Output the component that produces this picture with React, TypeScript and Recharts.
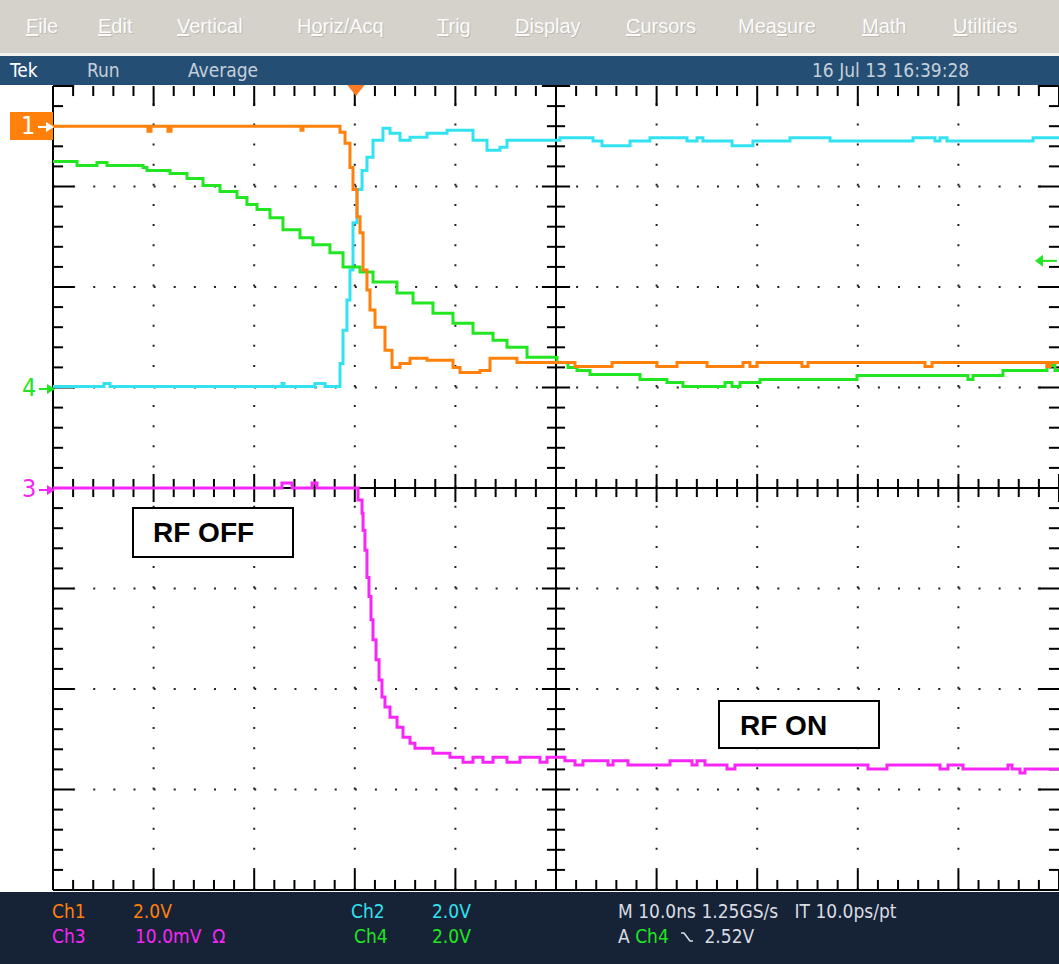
import React from "react";
import { LineChart, Line, XAxis, YAxis, ReferenceLine, ReferenceDot } from "recharts";

// screen divisions: 10 across, 8 down (centre = 5, 0)
const divX = [0, 1, 2, 3, 4, 5, 6, 7, 8, 9, 10];
const divY = [-4, -3, -2, -1, 0, 1, 2, 3, 4];

// traces, in divisions (t across, v up from screen centre)
const ch1 = [
  { t: 0, v: 3.6 }, { t: 0.944, v: 3.55 }, { t: 0.974, v: 3.6 }, { t: 1.143, v: 3.55 },
  { t: 1.173, v: 3.6 }, { t: 2.465, v: 3.56 }, { t: 2.485, v: 3.6 }, { t: 2.783, v: 3.6 },
  { t: 2.853, v: 3.54 }, { t: 2.903, v: 3.43 }, { t: 2.952, v: 3.19 }, { t: 2.982, v: 2.97 },
  { t: 3.022, v: 2.7 }, { t: 3.052, v: 2.54 }, { t: 3.082, v: 2.17 }, { t: 3.121, v: 1.97 },
  { t: 3.151, v: 1.77 }, { t: 3.201, v: 1.6 }, { t: 3.3, v: 1.37 }, { t: 3.37, v: 1.2 },
  { t: 3.449, v: 1.24 }, { t: 3.549, v: 1.29 }, { t: 3.718, v: 1.27 }, { t: 3.976, v: 1.2 },
  { t: 4.046, v: 1.15 }, { t: 4.245, v: 1.17 }, { t: 4.344, v: 1.29 }, { t: 4.573, v: 1.29 },
  { t: 4.612, v: 1.25 }, { t: 5.189, v: 1.21 }, { t: 5.557, v: 1.25 }, { t: 6.004, v: 1.21 },
  { t: 6.203, v: 1.25 }, { t: 6.501, v: 1.21 }, { t: 6.859, v: 1.25 }, { t: 6.928, v: 1.21 },
  { t: 6.998, v: 1.25 }, { t: 7.445, v: 1.21 }, { t: 7.505, v: 1.25 }, { t: 8.668, v: 1.21 },
  { t: 8.738, v: 1.25 }, { t: 9.881, v: 1.21 }, { t: 9.911, v: 1.25 }, { t: 10, v: 1.25 },
];

const ch2 = [
  { t: 0, v: 1.01 }, { t: 0.507, v: 1.04 }, { t: 0.567, v: 1.01 }, { t: 2.276, v: 1.04 },
  { t: 2.296, v: 1.01 }, { t: 2.604, v: 1.04 }, { t: 2.704, v: 1.01 }, { t: 2.783, v: 1.01 },
  { t: 2.853, v: 1.24 }, { t: 2.883, v: 1.57 }, { t: 2.922, v: 1.87 }, { t: 2.952, v: 2.17 },
  { t: 2.982, v: 2.64 }, { t: 3.022, v: 2.97 }, { t: 3.072, v: 3.16 }, { t: 3.121, v: 3.29 },
  { t: 3.181, v: 3.46 }, { t: 3.28, v: 3.58 }, { t: 3.35, v: 3.53 }, { t: 3.449, v: 3.46 },
  { t: 3.549, v: 3.49 }, { t: 3.718, v: 3.53 }, { t: 3.917, v: 3.56 }, { t: 4.076, v: 3.56 },
  { t: 4.175, v: 3.46 }, { t: 4.314, v: 3.36 }, { t: 4.443, v: 3.39 }, { t: 4.513, v: 3.46 },
  { t: 5.04, v: 3.486 }, { t: 5.368, v: 3.453 }, { t: 5.457, v: 3.406 }, { t: 5.736, v: 3.453 },
  { t: 5.934, v: 3.486 }, { t: 6.302, v: 3.453 }, { t: 6.402, v: 3.486 }, { t: 6.461, v: 3.453 },
  { t: 6.75, v: 3.406 }, { t: 6.958, v: 3.453 }, { t: 7.326, v: 3.486 }, { t: 7.724, v: 3.453 },
  { t: 8.549, v: 3.486 }, { t: 8.767, v: 3.453 }, { t: 8.817, v: 3.486 }, { t: 8.887, v: 3.453 },
  { t: 9.742, v: 3.486 }, { t: 10, v: 3.486 },
];

const ch3 = [
  { t: 0, v: 0 }, { t: 2.276, v: 0.05 }, { t: 2.376, v: 0 }, { t: 2.575, v: 0.05 },
  { t: 2.624, v: 0 }, { t: 3.022, v: 0 }, { t: 3.032, v: -0.12 }, { t: 3.072, v: -0.25 },
  { t: 3.082, v: -0.42 }, { t: 3.101, v: -0.62 }, { t: 3.121, v: -0.89 }, { t: 3.141, v: -1.08 },
  { t: 3.161, v: -1.31 }, { t: 3.181, v: -1.51 }, { t: 3.211, v: -1.71 }, { t: 3.241, v: -1.91 },
  { t: 3.27, v: -2.08 }, { t: 3.3, v: -2.18 }, { t: 3.35, v: -2.28 }, { t: 3.42, v: -2.38 },
  { t: 3.479, v: -2.48 }, { t: 3.549, v: -2.54 }, { t: 3.598, v: -2.59 }, { t: 3.777, v: -2.64 },
  { t: 3.946, v: -2.68 }, { t: 4.076, v: -2.73 }, { t: 4.175, v: -2.68 }, { t: 4.274, v: -2.73 },
  { t: 4.374, v: -2.68 }, { t: 4.513, v: -2.73 }, { t: 4.642, v: -2.68 }, { t: 4.841, v: -2.73 },
  { t: 4.911, v: -2.68 }, { t: 5.089, v: -2.713 }, { t: 5.189, v: -2.756 }, { t: 5.268, v: -2.713 },
  { t: 5.517, v: -2.756 }, { t: 5.567, v: -2.713 }, { t: 5.716, v: -2.756 }, { t: 6.133, v: -2.713 },
  { t: 6.352, v: -2.756 }, { t: 6.402, v: -2.713 }, { t: 6.481, v: -2.756 }, { t: 6.7, v: -2.796 },
  { t: 6.779, v: -2.756 }, { t: 8.101, v: -2.796 }, { t: 8.29, v: -2.756 }, { t: 8.817, v: -2.796 },
  { t: 8.897, v: -2.756 }, { t: 9.046, v: -2.796 }, { t: 9.493, v: -2.756 }, { t: 9.533, v: -2.796 },
  { t: 9.612, v: -2.836 }, { t: 9.662, v: -2.796 }, { t: 10, v: -2.796 },
];

const ch4 = [
  { t: 0, v: 3.25 }, { t: 0.239, v: 3.21 }, { t: 0.437, v: 3.24 }, { t: 0.537, v: 3.21 },
  { t: 0.895, v: 3.19 }, { t: 0.934, v: 3.16 }, { t: 1.163, v: 3.13 }, { t: 1.332, v: 3.08 },
  { t: 1.491, v: 3.01 }, { t: 1.66, v: 2.95 }, { t: 1.829, v: 2.89 }, { t: 1.928, v: 2.82 },
  { t: 2.028, v: 2.77 }, { t: 2.157, v: 2.69 }, { t: 2.286, v: 2.57 }, { t: 2.455, v: 2.49 },
  { t: 2.584, v: 2.42 }, { t: 2.753, v: 2.34 }, { t: 2.883, v: 2.2 }, { t: 3.052, v: 2.15 },
  { t: 3.181, v: 2.05 }, { t: 3.419, v: 1.94 }, { t: 3.579, v: 1.84 }, { t: 3.777, v: 1.74 },
  { t: 3.976, v: 1.64 }, { t: 4.175, v: 1.54 }, { t: 4.374, v: 1.47 }, { t: 4.513, v: 1.4 },
  { t: 4.712, v: 1.3 }, { t: 5.01, v: 1.25 }, { t: 5.119, v: 1.2 }, { t: 5.209, v: 1.17 },
  { t: 5.338, v: 1.13 }, { t: 5.835, v: 1.08 }, { t: 6.103, v: 1.05 }, { t: 6.262, v: 1.01 },
  { t: 6.68, v: 1.05 }, { t: 6.75, v: 1.01 }, { t: 6.829, v: 1.05 }, { t: 7.028, v: 1.08 },
  { t: 7.992, v: 1.12 }, { t: 9.095, v: 1.08 }, { t: 9.145, v: 1.12 }, { t: 9.443, v: 1.17 },
  { t: 9.881, v: 1.22 }, { t: 9.96, v: 1.17 }, { t: 10, v: 1.17 },
];

const triggerPos = 3.012;
const triggerLevel = 2.26;

const menuItems: [string, number, number][] = [
  ["File", 0, 26], ["Edit", 0, 98], ["Vertical", 0, 177], ["Horiz/Acq", 1, 297],
  ["Trig", 0, 437], ["Display", 0, 515], ["Cursors", 0, 626], ["Measure", 3, 738],
  ["Math", 0, 862], ["Utilities", 0, 953],
];

const ORANGE = "#ff800a";
const CYAN = "#33e2f0";
const GREEN = "#22e622";
const MAGENTA = "#f626f6";
const SCOPE_FONT = "'DejaVu Sans Condensed', 'DejaVu Sans', sans-serif";

const SUB = [0.2, 0.4, 0.6, 0.8];
const minorX = divX.slice(0, -1).flatMap((d) => SUB.map((s) => d + s));
const minorY = divY.slice(0, -1).flatMap((d) => SUB.map((s) => d + s));
const allX = [...divX, ...minorX];
const allY = [...divY, ...minorY];
const isMajor = (n: number) => Math.abs(n - Math.round(n)) < 1e-6;

const tick = (key: string, x1: number, y1: number, x2: number, y2: number) => (
  <ReferenceLine
    key={key}
    segment={[{ x: x1, y: y1 }, { x: x2, y: y2 }]}
    stroke="#000"
    strokeWidth={2}
  />
);

const Marker = ({ label, color, top, boxed }: { label: string; color: string; top: number; boxed?: boolean }) => (
  <div
    style={{
      position: "absolute",
      left: boxed ? 10 : 14,
      top: top - 14,
      width: boxed ? 43 : 39,
      height: 28,
      background: boxed ? ORANGE : "transparent",
      color: boxed ? "#fff" : color,
      font: `25px ${SCOPE_FONT}`,
      lineHeight: "28px",
      paddingLeft: boxed ? 11 : 8,
      boxSizing: "border-box",
      whiteSpace: "nowrap",
    }}
  >
    {label}
    <svg width="16" height="12" style={{ marginLeft: 3, verticalAlign: "1px" }}>
      <line x1="0" y1="6" x2="10" y2="6" stroke={boxed ? "#fff" : color} strokeWidth="2" />
      <polygon points="8,1 16,6 8,11" fill={boxed ? "#fff" : color} />
    </svg>
  </div>
);

const App: React.FC = () => {
  const dotted = { stroke: "#222", strokeWidth: 2, strokeDasharray: "2 18.12" };
  return (
    <div style={{ position: "absolute", left: 0, top: 0, width: 1059, height: 964, background: "#fff", overflow: "hidden" }}>
      <LineChart width={1059} height={964} margin={{ top: 86, right: 0, left: 53, bottom: 74 }}>
        <XAxis dataKey="t" type="number" domain={[0, 10]} ticks={divX} hide allowDuplicatedCategory={false} />
        <YAxis type="number" domain={[-4, 4]} ticks={divY} hide />

        {divX.filter((d) => d !== 0 && d !== 5 && d !== 10).map((d) => (
          <ReferenceLine key={`gx${d}`} x={d} {...dotted} />
        ))}
        {divY.filter((d) => d !== -4 && d !== 0 && d !== 4).map((d) => (
          <ReferenceLine key={`gy${d}`} y={d} {...dotted} />
        ))}

        <ReferenceLine x={0} stroke="#000" strokeWidth={2} />
        <ReferenceLine x={5} stroke="#000" strokeWidth={2} />
        <ReferenceLine y={0} stroke="#000" strokeWidth={2} />
        <ReferenceLine y={-4} stroke="#000" strokeWidth={2} />

        {allX.map((x) => {
          const m = isMajor(x);
          const hx = m ? 0.2 : 0.1;
          const cx = m ? 0.14 : 0.09;
          return [
            tick(`t${x}`, x, 4, x, 4 - hx),
            tick(`b${x}`, x, -4, x, -4 + hx),
            tick(`c${x}`, x, -cx, x, cx),
          ];
        })}
        {allY.map((y) => {
          const m = isMajor(y);
          const hy = m ? 0.21 : 0.1;
          const cy = m ? 0.14 : 0.09;
          return [
            tick(`l${y}`, 0, y, hy, y),
            tick(`r${y}`, 10, y, 10 - hy, y),
            tick(`m${y}`, 5 - cy, y, 5 + cy, y),
          ];
        })}

        <Line data={ch2} dataKey="v" type="stepAfter" stroke={CYAN} strokeWidth={3} dot={false} isAnimationActive={false} />
        <Line data={ch4} dataKey="v" type="stepAfter" stroke={GREEN} strokeWidth={3} dot={false} isAnimationActive={false} />
        <Line data={ch1} dataKey="v" type="stepAfter" stroke={ORANGE} strokeWidth={3} dot={false} isAnimationActive={false} />
        <Line data={ch3} dataKey="v" type="stepAfter" stroke={MAGENTA} strokeWidth={3} dot={false} isAnimationActive={false} />

        <ReferenceDot
          x={triggerPos}
          y={4}
          ifOverflow="visible"
          shape={(p: any) => (
            <polygon points={`${p.cx - 11},${p.cy - 4} ${p.cx + 11},${p.cy - 4} ${p.cx},${p.cy + 10}`} fill="#ff7a22" />
          )}
        />
        <ReferenceDot
          x={9.761}
          y={triggerLevel}
          ifOverflow="visible"
          shape={(p: any) => (
            <g>
              <polygon points={`${p.cx},${p.cy} ${p.cx + 8},${p.cy - 6} ${p.cx + 8},${p.cy + 6}`} fill={GREEN} />
              <line x1={p.cx + 6} y1={p.cy} x2={p.cx + 22} y2={p.cy} stroke={GREEN} strokeWidth={2} />
            </g>
          )}
        />
      </LineChart>

      {/* menu bar */}
      <div style={{ position: "absolute", left: 0, top: 0, width: 1059, height: 53, background: "#d5d2cb" }}>
        {menuItems.map(([label, u, x]) => (
          <span
            key={label}
            style={{
              position: "absolute",
              left: x,
              top: 15,
              font: "20px 'Liberation Sans', Arial, sans-serif",
              color: "#fbfbfb",
              textShadow: "1px 1px 0 #bdb9b1",
            }}
          >
            {label.slice(0, u)}
            <span style={{ textDecoration: "underline" }}>{label[u]}</span>
            {label.slice(u + 1)}
          </span>
        ))}
      </div>
      <div style={{ position: "absolute", left: 0, top: 53, width: 1059, height: 3, background: "#f2f2f2" }} />

      {/* status bar */}
      <div style={{ position: "absolute", left: 0, top: 56, width: 1059, height: 29, background: "#244e74", font: `19px ${SCOPE_FONT}`, lineHeight: "29px" }}>
        <span style={{ position: "absolute", left: 10, color: "#fff" }}>Tek</span>
        <span style={{ position: "absolute", left: 87, color: "#c6d0da" }}>Run</span>
        <span style={{ position: "absolute", left: 188, color: "#c6d0da" }}>Average</span>
        <span style={{ position: "absolute", left: 812, color: "#c6d0da" }}>16 Jul 13 16:39:28</span>
      </div>

      {/* channel markers */}
      <Marker label="1" color="#fff" top={126} boxed />
      <Marker label="4" color={GREEN} top={388} />
      <Marker label="3" color={MAGENTA} top={489} />

      {/* annotations */}
      <div style={{ position: "absolute", left: 132, top: 507, width: 162, height: 51, border: "2px solid #000", boxSizing: "border-box", background: "#fff", font: "bold 28px 'Liberation Sans', Arial, sans-serif", lineHeight: "47px", paddingLeft: 19 }}>
        RF OFF
      </div>
      <div style={{ position: "absolute", left: 718, top: 700, width: 162, height: 49, border: "2px solid #000", boxSizing: "border-box", background: "#fff", font: "bold 28px 'Liberation Sans', Arial, sans-serif", lineHeight: "47px", paddingLeft: 20 }}>
        RF ON
      </div>

      {/* bottom readout */}
      <div style={{ position: "absolute", left: 0, top: 892, width: 1059, height: 72, background: "#162236", font: `19px ${SCOPE_FONT}`, lineHeight: "20px" }}>
        <span style={{ position: "absolute", left: 52, top: 9, color: ORANGE }}>Ch1</span>
        <span style={{ position: "absolute", left: 133, top: 9, color: ORANGE }}>2.0V</span>
        <span style={{ position: "absolute", left: 351, top: 9, color: CYAN }}>Ch2</span>
        <span style={{ position: "absolute", left: 432, top: 9, color: CYAN }}>2.0V</span>
        <span style={{ position: "absolute", left: 618, top: 9, color: "#d8dce2", whiteSpace: "pre" }}>M 10.0ns 1.25GS/s   IT 10.0ps/pt</span>
        <span style={{ position: "absolute", left: 52, top: 34, color: MAGENTA }}>Ch3</span>
        <span style={{ position: "absolute", left: 135, top: 34, color: MAGENTA, whiteSpace: "pre" }}>10.0mV  Ω</span>
        <span style={{ position: "absolute", left: 354, top: 34, color: GREEN }}>Ch4</span>
        <span style={{ position: "absolute", left: 432, top: 34, color: GREEN }}>2.0V</span>
        <span style={{ position: "absolute", left: 618, top: 34, color: "#d8dce2", whiteSpace: "pre" }}>
          A <span style={{ color: GREEN }}>Ch4</span>{"  "}
          <svg width="14" height="14" style={{ verticalAlign: "-1px" }}>
            <path d="M1 3 H4 L10 11 H13" stroke="#d8dce2" strokeWidth="1.6" fill="none" />
          </svg>
          {"  "}2.52V
        </span>
      </div>
    </div>
  );
};

export default App;
